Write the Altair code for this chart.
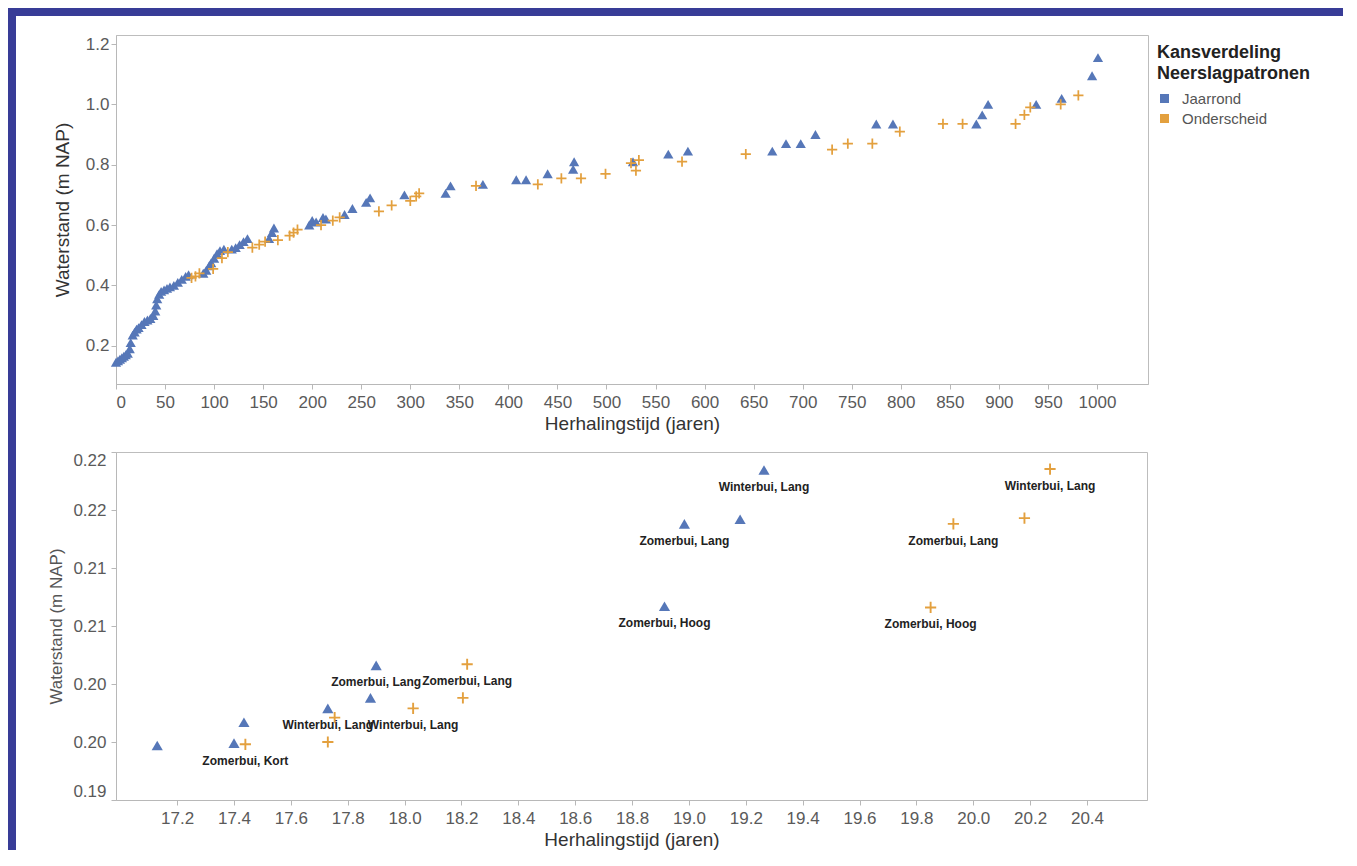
import altair as alt
import pandas as pd

# ---------------- data ----------------
series = ["Jaarrond", "Onderscheid"]
series_colors = ["#5677b8", "#e3a03e"]
frame_color = "#383c97"

# top panel: herhalingstijd (jaren) vs waterstand (m NAP)
top_jaar_x = [0, 2, 4, 6, 8, 10, 12, 14, 15, 17, 19, 21, 23, 26, 29, 32, 35, 38, 40, 41,
              42, 44, 46, 49, 52, 55, 59, 63, 67, 71, 74, 89, 92, 95, 97, 100, 103, 106, 110,
              118, 122, 126, 130, 134, 156, 159, 161, 197, 200, 204, 211, 214, 233, 241, 255,
              259, 294, 336, 341, 374, 408, 418, 440, 466, 467, 527, 563, 583, 669, 683, 698,
              713, 775, 792, 877, 883, 889, 938, 964, 995, 1001]
top_jaar_y = [0.145, 0.15, 0.155, 0.16, 0.165, 0.17, 0.175, 0.19, 0.21, 0.235, 0.245, 0.255,
              0.26, 0.27, 0.28, 0.285, 0.29, 0.30, 0.315, 0.335, 0.355, 0.37, 0.38, 0.385, 0.39,
              0.395, 0.40, 0.41, 0.42, 0.43, 0.435, 0.44, 0.45, 0.465, 0.475, 0.49, 0.505, 0.515,
              0.52, 0.52, 0.525, 0.535, 0.545, 0.555, 0.555, 0.575, 0.59, 0.60, 0.615, 0.61,
              0.625, 0.62, 0.635, 0.655, 0.675, 0.69, 0.70, 0.705, 0.73, 0.735, 0.75, 0.75,
              0.77, 0.785, 0.81, 0.81, 0.835, 0.845, 0.845, 0.87, 0.87, 0.90, 0.935, 0.935,
              0.935, 0.965, 1.0, 1.0, 1.02, 1.095, 1.155]
top_onder_x = [77, 81, 85, 99, 108, 114, 139, 146, 152, 165, 177, 181, 185, 209, 221, 228, 268,
               281, 300, 306, 309, 367, 430, 454, 474, 499, 525, 530, 533, 577, 642, 730, 746,
               771, 799, 843, 863, 917, 926, 932, 963, 981]
top_onder_y = [0.425, 0.43, 0.44, 0.455, 0.49, 0.51, 0.525, 0.535, 0.545, 0.55, 0.565, 0.575,
               0.585, 0.60, 0.615, 0.625, 0.645, 0.665, 0.68, 0.695, 0.705, 0.73, 0.735, 0.755,
               0.755, 0.77, 0.805, 0.78, 0.815, 0.81, 0.835, 0.85, 0.87, 0.87, 0.91, 0.935,
               0.935, 0.935, 0.965, 0.99, 1.0, 1.03]

# bottom panel (zoom)
bot_jaar_x = [17.13, 17.40, 17.435, 17.73, 17.88, 17.90, 18.914, 18.984, 19.18, 19.264]
bot_jaar_y = [0.1947, 0.1949, 0.1967, 0.1979, 0.1988, 0.2016, 0.2067, 0.2138, 0.2142, 0.21845]
bot_jaar_lbl = ["", "", "", "Winterbui, Lang", "", "Zomerbui, Lang", "Zomerbui, Hoog",
                "Zomerbui, Lang", "", "Winterbui, Lang"]
bot_onder_x = [17.44, 17.73, 17.754, 18.03, 18.205, 18.22, 19.85, 19.93, 20.18, 20.27]
bot_onder_y = [0.1948, 0.1950, 0.1971, 0.1979, 0.1988, 0.2017, 0.2066, 0.2138, 0.2143, 0.21853]
bot_onder_lbl = ["Zomerbui, Kort", "", "", "Winterbui, Lang", "", "Zomerbui, Lang",
                 "Zomerbui, Hoog", "Zomerbui, Lang", "", "Winterbui, Lang"]

top_x_ticks = list(range(0, 1001, 50))
top_y_ticks = [0.2, 0.4, 0.6, 0.8, 1.0, 1.2]
bot_x_ticks = [17.2, 17.4, 17.6, 17.8, 18.0, 18.2, 18.4, 18.6, 18.8, 19.0, 19.2, 19.4, 19.6,
               19.8, 20.0, 20.2, 20.4]
bot_y_ticks = [0.19, 0.195, 0.20, 0.205, 0.21, 0.215, 0.22]
bot_y_labels = ["0.19", "0.20", "0.20", "0.21", "0.21", "0.22", "0.22"]

x_title = "Herhalingstijd (jaren)"
y_title = "Waterstand (m NAP)"
legend_title = ["Kansverdeling", "Neerslagpatronen"]

# ---------------- frames ----------------
top_jaar = pd.DataFrame({"jaren": top_jaar_x, "stand": top_jaar_y, "reeks": series[0]})
top_onder = pd.DataFrame({"jaren": top_onder_x, "stand": top_onder_y, "reeks": series[1]})
bot_jaar = pd.DataFrame({"jaren": bot_jaar_x, "stand": bot_jaar_y, "reeks": series[0],
                         "label": bot_jaar_lbl})
bot_onder = pd.DataFrame({"jaren": bot_onder_x, "stand": bot_onder_y, "reeks": series[1],
                          "label": bot_onder_lbl})
bot_all = pd.concat([bot_jaar, bot_onder], ignore_index=True)

FONT = "Liberation Sans"
triangle = "triangle-up"
plus_path = "M-1,-0.17H1V0.17H-1Z M-0.17,-1H0.17V1H-0.17Z"

legend = alt.Legend(
    title=legend_title, orient="none", legendX=1149, legendY=36,
    symbolType="square", symbolSize=81, symbolStrokeWidth=0,
    titleFont=FONT, titleFontSize=18, titleFontWeight="bold", titleColor="#222222",
    titleLineHeight=21, titlePadding=8,
    labelFont=FONT, labelFontSize=15, labelColor="#555555", labelOffset=10,
    rowPadding=4,
)
color_enc = alt.Color("reeks:N", scale=alt.Scale(domain=series, range=series_colors),
                      legend=legend)


def axis(values, title, label_pad, title_pad, title_size, title_color, **kw):
    return alt.Axis(
        values=values, title=title, grid=False,
        domainColor="#b8b8b8", tickColor="#b8b8b8", tickSize=5,
        labelFont=FONT, labelFontSize=17, labelColor="#5a5a5a", labelPadding=label_pad,
        labelOverlap=False,
        titleFont=FONT, titleFontSize=title_size, titleFontWeight="normal",
        titleColor=title_color, titlePadding=title_pad, **kw)


view = alt.ViewBackground(stroke="#bdbdbd", fill="white")

tx = alt.X("jaren:Q", scale=alt.Scale(domain=[0, 1052], nice=False, zero=False),
           axis=axis(top_x_ticks, x_title, 5, 4, 19, "#333333", format="d"))
ty = alt.Y("stand:Q", scale=alt.Scale(domain=[0.073, 1.23], nice=False, zero=False),
           axis=axis(top_y_ticks, y_title, 2, 13, 19, "#333333", format=".1f"))

top_a = alt.Chart(top_jaar).mark_point(filled=True, size=105, opacity=1).encode(
    x=tx, y=ty, color=color_enc, shape=alt.value(triangle))
top_b = alt.Chart(top_onder).mark_point(filled=True, size=105, opacity=1).encode(
    x=tx, y=ty, color=color_enc, shape=alt.value(plus_path))
top = alt.layer(top_a, top_b).properties(width=1032, height=349, view=view)

bx = alt.X("jaren:Q", scale=alt.Scale(domain=[16.985, 20.611], nice=False, zero=False),
           axis=axis(bot_x_ticks, x_title, 5, 4, 19, "#333333", format=".1f"))
label_expr = "[" + ",".join("'%s'" % s for s in bot_y_labels) + "][round((datum.value - 0.19) / 0.005)]"
by = alt.Y("stand:Q", scale=alt.Scale(domain=[0.19, 0.22], nice=False, zero=False),
           axis=axis(bot_y_ticks, y_title, 5, 7, 17, "#555555", labelExpr=label_expr,
                     labelFlush=True))

bot_a = alt.Chart(bot_jaar).mark_point(filled=True, size=125, opacity=1).encode(
    x=bx, y=by, color=color_enc, shape=alt.value(triangle))
bot_b = alt.Chart(bot_onder).mark_point(filled=True, size=125, opacity=1).encode(
    x=bx, y=by, color=color_enc, shape=alt.value(plus_path))
bot_txt = alt.Chart(bot_all).mark_text(
    dy=17, font=FONT, fontSize=12, fontWeight="bold", color="#222222"
).encode(x=bx, y=by, text="label:N")
bottom = alt.layer(bot_a, bot_b, bot_txt).properties(width=1031, height=348, view=view)

one = pd.DataFrame({"v": [0]})


def block(w, h, fill):
    return alt.Chart(one).mark_point(opacity=0, size=1).encode(
        x=alt.value(w / 2), y=alt.value(h / 2)
    ).properties(width=w, height=h,
                 view=alt.ViewBackground(fill=fill, stroke=fill, strokeWidth=0))


top_strip = block(1335, 8, frame_color)
left_strip = block(8, 834, frame_color)
spacer = block(2, 18, "transparent")

panels = alt.vconcat(top, bottom, spacing=16)
charts = alt.vconcat(spacer, panels, spacing=0)
body = alt.hconcat(left_strip, charts, spacing=31)
chart = alt.vconcat(top_strip, body, spacing=0).properties(
    padding=0, background="white"
)

chart.save("out.html", embed_options={"renderer": "svg", "actions": False})
